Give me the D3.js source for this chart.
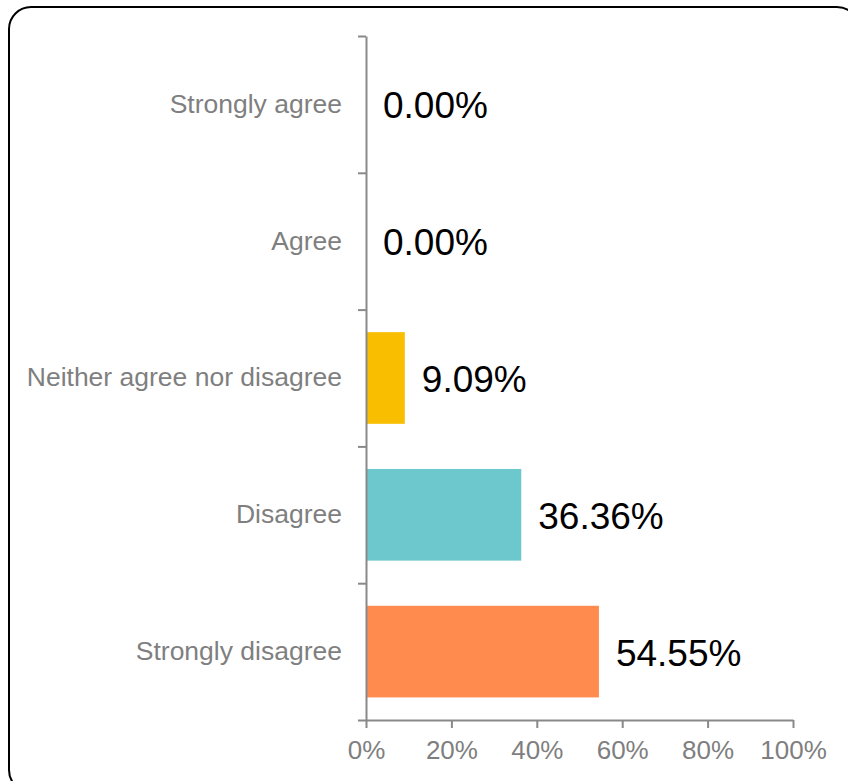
<!DOCTYPE html>
<html>
<head>
<meta charset="utf-8">
<script src="https://cdn.jsdelivr.net/npm/d3@7"></script>
<style>
  body { margin: 0; background: #fff; }
  svg { display: block; font-family: "Liberation Sans", Arial, sans-serif; }
  .axis path, .axis line { stroke: #898989; stroke-width: 2; }
  .axis text { fill: #7f7f7f; font-size: 26px; }
  .y-labels text { font-size: 26.5px; }
</style>
</head>
<body>
<div id="chart"></div>
<script>
// data
const categories = ['Strongly agree', 'Agree', 'Neither agree nor disagree', 'Disagree', 'Strongly disagree'];
const values = [0, 0, 9.09, 36.36, 54.55];
const barColors = ['#4a86c8', '#a5a5a5', '#f9be00', '#6cc8cc', '#ff8b4f'];
const xTicks = [0, 20, 40, 60, 80, 100];

const width = 848, height = 781;
const margin = {top: 36, left: 366, right: 55, bottom: 61};
const innerW = width - margin.left - margin.right;
const innerH = height - margin.top - margin.bottom;

const svg = d3.select('#chart').append('svg')
    .attr('width', width)
    .attr('height', height);

// frame
svg.append('rect')
    .attr('x', 9).attr('y', 7)
    .attr('width', 850).attr('height', 785)
    .attr('rx', 22)
    .attr('fill', 'none')
    .attr('stroke', '#000')
    .attr('stroke-width', 2);

const chart = svg.append('g')
    .attr('transform', `translate(${margin.left},${margin.top})`);

const xScale = d3.scaleLinear().domain([0, 100]).range([0, innerW]);
const yScale = d3.scaleBand().domain(categories).range([0, innerH])
    .paddingInner(0.33).paddingOuter(0.165);
const yEdges = d3.scaleLinear().domain([0, categories.length]).range([0, innerH]);

// bars
chart.selectAll('.bar')
    .data(categories)
    .join('rect')
    .attr('class', 'bar')
    .attr('x', 0)
    .attr('y', d => yScale(d))
    .attr('width', (d, i) => xScale(values[i]))
    .attr('height', yScale.bandwidth())
    .attr('fill', (d, i) => barColors[i]);

// value labels
chart.selectAll('.val')
    .data(categories)
    .join('text')
    .attr('class', 'val')
    .attr('x', (d, i) => xScale(values[i]) + 17)
    .attr('y', d => yScale(d) + yScale.bandwidth() / 2)
    .attr('dy', '0.38em')
    .style('font-size', '37px')
    .style('fill', '#000')
    .text((d, i) => values[i].toFixed(2) + '%');

// x axis
chart.append('g')
    .attr('class', 'axis x-axis')
    .attr('transform', `translate(0,${innerH})`)
    .call(d3.axisBottom(xScale)
        .tickValues(xTicks)
        .tickSize(8)
        .tickSizeOuter(0)
        .tickPadding(13)
        .tickFormat(d => d + '%'));

// y axis: boundary ticks
chart.append('g')
    .attr('class', 'axis y-axis')
    .call(d3.axisLeft(yEdges)
        .tickValues(d3.range(categories.length + 1))
        .tickSize(8)
        .tickSizeOuter(0)
        .tickFormat(''));

// y axis: category labels
const yLab = chart.append('g')
    .attr('class', 'axis y-labels')
    .call(d3.axisLeft(yScale).tickSize(0).tickPadding(24));
yLab.select('.domain').remove();
</script>
</body>
</html>
